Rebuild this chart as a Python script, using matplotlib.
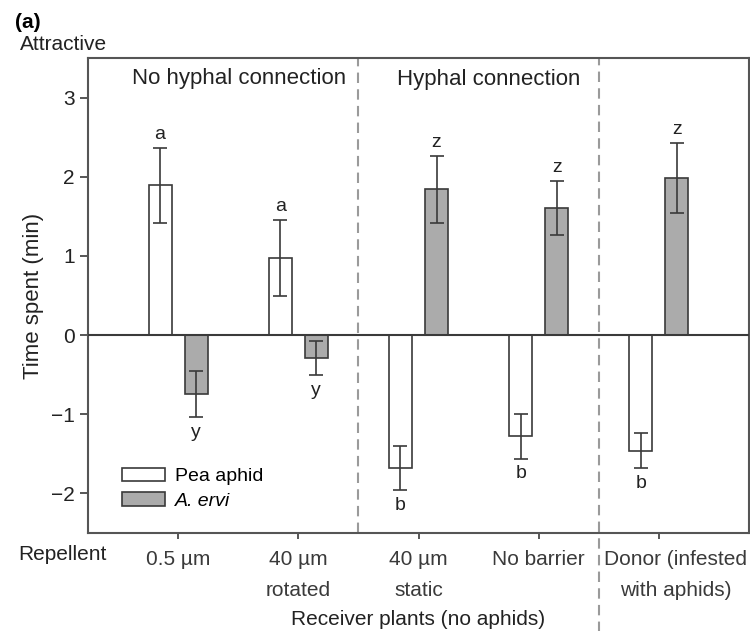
import numpy as np
import matplotlib
matplotlib.use("Agg")
import matplotlib.pyplot as plt
import matplotlib.transforms as mtransforms
from matplotlib.patches import Patch

plt.rcParams['font.family'] = ['Liberation Sans', 'DejaVu Sans']

# data
groups = ['0.5 \u00b5m', '40 \u00b5m\nrotated', '40 \u00b5m\nstatic', 'No barrier', 'Donor (infested\nwith aphids)']
pea_mean = [1.89, 0.97, -1.68, -1.28, -1.46]
pea_err = [0.47, 0.48, 0.28, 0.28, 0.22]
ervi_mean = [-0.75, -0.29, 1.84, 1.60, 1.98]
ervi_err = [0.29, 0.22, 0.42, 0.34, 0.44]
pea_letters = ['a', 'a', 'b', 'b', 'b']
ervi_letters = ['y', 'y', 'z', 'z', 'z']
yticks = [-2, -1, 0, 1, 2, 3]

edge = '#3a3a3a'
grey = '#ababab'

fig = plt.figure(figsize=(7.5, 6.31), dpi=100)
ax = fig.add_axes([0.1173, 0.1553, 0.8814, 0.7528])

x = np.arange(1, len(groups) + 1)
w = 0.19
off = 0.15

ax.bar(x - off, pea_mean, w, color='white', edgecolor=edge, linewidth=1.2, zorder=2)
ax.bar(x + off, ervi_mean, w, color=grey, edgecolor=edge, linewidth=1.2, zorder=2)
ax.errorbar(x - off, pea_mean, yerr=pea_err, fmt='none', ecolor=edge,
            elinewidth=1.2, capsize=5, capthick=1.2, zorder=3)
ax.errorbar(x + off, ervi_mean, yerr=ervi_err, fmt='none', ecolor=edge,
            elinewidth=1.2, capsize=5, capthick=1.2, zorder=3)

# significance letters
for xs, means, errs, letters in [(x - off, pea_mean, pea_err, pea_letters),
                                 (x + off, ervi_mean, ervi_err, ervi_letters)]:
    for xi, m, e, l in zip(xs, means, errs, letters):
        if m > 0:
            ax.annotate(l, (xi, m + e), xytext=(0, 10), textcoords='offset points',
                        ha='center', va='center', fontsize=14, color='#222222')
        else:
            ax.annotate(l, (xi, m - e), xytext=(0, -11), textcoords='offset points',
                        ha='center', va='center', fontsize=14, color='#222222')

ax.axhline(0, color=edge, linewidth=1.5, zorder=4)

# dashed separators
ax.axvline(2.5, color='#9a9a9a', linewidth=1.5, linestyle=(0, (5, 3)), zorder=1)
trans = mtransforms.blended_transform_factory(ax.transData, ax.transAxes)
ax.plot([4.5, 4.5], [-0.21, 1], transform=trans, color='#9a9a9a', linewidth=1.5,
        linestyle=(0, (5, 3)), clip_on=False, zorder=1)

ax.text(1.51, 3.24, 'No hyphal connection', ha='center', va='center', fontsize=16, color='#222222')
ax.text(3.58, 3.23, 'Hyphal connection', ha='center', va='center', fontsize=16, color='#222222')

ax.set_xlim(0.25, 5.75)
ax.set_ylim(-2.5, 3.5)
ax.set_yticks(yticks)
ax.set_xticks(x)
ax.set_xticklabels(groups, fontsize=15, color='#222222')
for lab in ax.get_xticklabels():
    lab.set_linespacing(1.85)
ax.tick_params(axis='y', direction='out', length=6, width=1.2, labelsize=15, colors=edge, labelcolor='#222222')
ax.tick_params(axis='x', direction='out', length=4, width=1.2, colors=edge, pad=8)
# shift the donor label right a bit, clear of the dashed line
lab = ax.get_xticklabels()[-1]
lab.set_transform(lab.get_transform() + mtransforms.ScaledTranslation(0.17, 0, fig.dpi_scale_trans))

for s in ax.spines.values():
    s.set_color('#555555')
    s.set_linewidth(1.5)

ax.set_ylabel('Time spent (min)', fontsize=16, color='#222222', labelpad=5)
ax.set_xlabel('Receiver plants (no aphids)', fontsize=15, color='#222222', labelpad=7)

handles = [Patch(facecolor='white', edgecolor=edge, linewidth=1.2),
           Patch(facecolor=grey, edgecolor=edge, linewidth=1.2)]
leg = ax.legend(handles, ['Pea aphid', 'A. ervi'], loc='lower left',
                bbox_to_anchor=(0.025, 0.012), frameon=False, fontsize=14,
                handlelength=2.2, handleheight=0.7, labelspacing=0.35, handletextpad=0.5)
leg.get_texts()[1].set_style('italic')

fig.text(15 / 750, 1 - 22 / 631, '(a)', fontsize=15, fontweight='bold', va='center', ha='left')
fig.text(20 / 750, 1 - 45 / 631, 'Attractive', fontsize=15, va='center', ha='left', color='#222222')
fig.text(18 / 750, 1 - 555 / 631, 'Repellent', fontsize=15, va='center', ha='left', color='#222222')

fig.savefig('out.png', dpi=100)
